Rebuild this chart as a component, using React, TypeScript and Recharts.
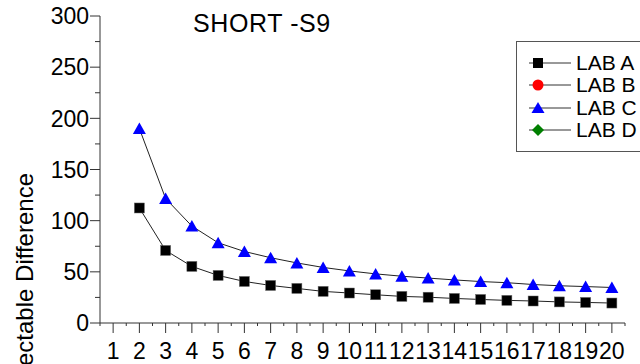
import React from 'react'
import { LineChart, Line, XAxis, YAxis } from 'recharts'

const nValues = [2, 3, 4, 5, 6, 7, 8, 9, 10, 11, 12, 13, 14, 15, 16, 17, 18, 19, 20]
const labA = [112.4, 70.9, 55.3, 46.5, 40.6, 36.7, 33.8, 30.9, 29.3, 27.6, 26.0, 25.2, 24.0, 23.0, 22.1, 21.5, 20.6, 20.1, 19.5]
const labC = [190.0, 121.6, 94.7, 78.4, 69.9, 63.8, 58.7, 54.3, 50.9, 48.0, 45.7, 43.9, 42.1, 40.5, 39.4, 37.6, 36.4, 35.6, 34.7]
const xMajorTicks = [1, 2, 3, 4, 5, 6, 7, 8, 9, 10, 11, 12, 13, 14, 15, 16, 17, 18, 19, 20]
const yTicks = [0, 25, 50, 75, 100, 125, 150, 175, 200, 225, 250, 275, 300]
const legendNames = ['LAB A', 'LAB B', 'LAB C', 'LAB D']
const legendColors = ['#000000', '#ff0000', '#0000ff', '#008000']

const FONT = '"Liberation Sans", Arial, sans-serif'

const data = nValues.map((n, i) => ({ n, labA: labA[i], labC: labC[i] }))
const xTicks = [...xMajorTicks.map(v => v - 0.5), ...xMajorTicks, 20.5].sort((a, b) => a - b)

const Square = ({ cx, cy }: any) => (
  <rect x={cx - 5} y={cy - 5} width={10} height={10} fill="#000" stroke="#666" strokeWidth={0.5} />
)
const Triangle = ({ cx, cy }: any) => (
  <polygon points={`${cx},${cy - 6} ${cx - 6.5},${cy + 5.5} ${cx + 6.5},${cy + 5.5}`} fill="#0000ff" />
)

const YTick = ({ x, y, payload }: any) => {
  const major = payload.value % 50 === 0
  return (
    <g>
      <line x1={x - (major ? 10 : 5)} x2={x} y1={y} y2={y} stroke="#333" />
      {major && <text x={x - 11} y={y} dy="0.36em" textAnchor="end" fontSize={23} fontFamily={FONT} fill="#000">{payload.value}</text>}
    </g>
  )
}

const XTick = ({ x, y, payload }: any) => {
  const major = Number.isInteger(payload.value)
  return (
    <g>
      <line x1={x} x2={x} y1={y} y2={y + (major ? 10 : 3)} stroke="#333" />
      {major && <text x={x} y={y + 36} textAnchor="middle" fontSize={23} fontFamily={FONT} fill="#000">{payload.value}</text>}
    </g>
  )
}

const Symbol = ({ i }: { i: number }) => {
  const c = legendColors[i]
  if (i === 0) return <rect x={15} y={6} width={10} height={10} fill={c} />
  if (i === 1) return <circle cx={20} cy={11} r={5.5} fill={c} />
  if (i === 2) return <polygon points="20,5 13.5,16 26.5,16" fill={c} />
  return <polygon points="20,5 26,11 20,17 14,11" fill={c} />
}

const LegendBox = () => (
  <div style={{ position: 'absolute', left: 516, top: 41, border: '1px solid #555', background: '#fff', width: 140, height: 111, boxSizing: 'border-box', paddingTop: 10, fontFamily: FONT }}>
    {legendNames.map((name, i) => (
      <div key={name} style={{ display: 'flex', alignItems: 'center', height: 22.3 }}>
        <svg width={58} height={22} style={{ marginLeft: 1 }}>
          <line x1={11} x2={53} y1={11} y2={11} stroke="#333" />
          <Symbol i={i} />
        </svg>
        <span style={{ fontSize: 21, color: '#000', lineHeight: '22px' }}>{name}</span>
      </div>
    ))}
  </div>
)

export default function App() {
  return (
    <div style={{ position: 'absolute', left: 0, top: 0, width: 640, height: 364, background: '#fff', overflow: 'hidden' }}>
      <LineChart width={640} height={364} data={data} margin={{ top: 16, right: 15, bottom: 0, left: 0 }}>
        <XAxis dataKey="n" type="number" domain={[0.5, 20.5]} ticks={xTicks} interval={0} height={41}
          tickSize={0} tickMargin={0} tickLine={false} tick={<XTick />} axisLine={{ stroke: '#333' }} />
        <YAxis type="number" domain={[0, 300]} ticks={yTicks} interval={0} width={100}
          tickSize={0} tickMargin={0} tickLine={false} tick={<YTick />} axisLine={{ stroke: '#333' }} />
        <Line dataKey="labA" name="LAB A" stroke="#222" strokeWidth={1} dot={<Square />} activeDot={false} isAnimationActive={false} />
        <Line dataKey="labC" name="LAB C" stroke="#222" strokeWidth={1} dot={<Triangle />} activeDot={false} isAnimationActive={false} />
      </LineChart>
      <LegendBox />
      <svg width={640} height={364} style={{ position: 'absolute', left: 0, top: 0, pointerEvents: 'none' }}>
        <text x={193} y={32} fontSize={25} letterSpacing={0.6} fontFamily={FONT} fill="#000">SHORT -S9</text>
        <text x={33} y={173} transform="rotate(-90 33 173)" textAnchor="end" fontSize={24} fontFamily={FONT} fill="#000">Detectable Difference</text>
      </svg>
    </div>
  )
}
